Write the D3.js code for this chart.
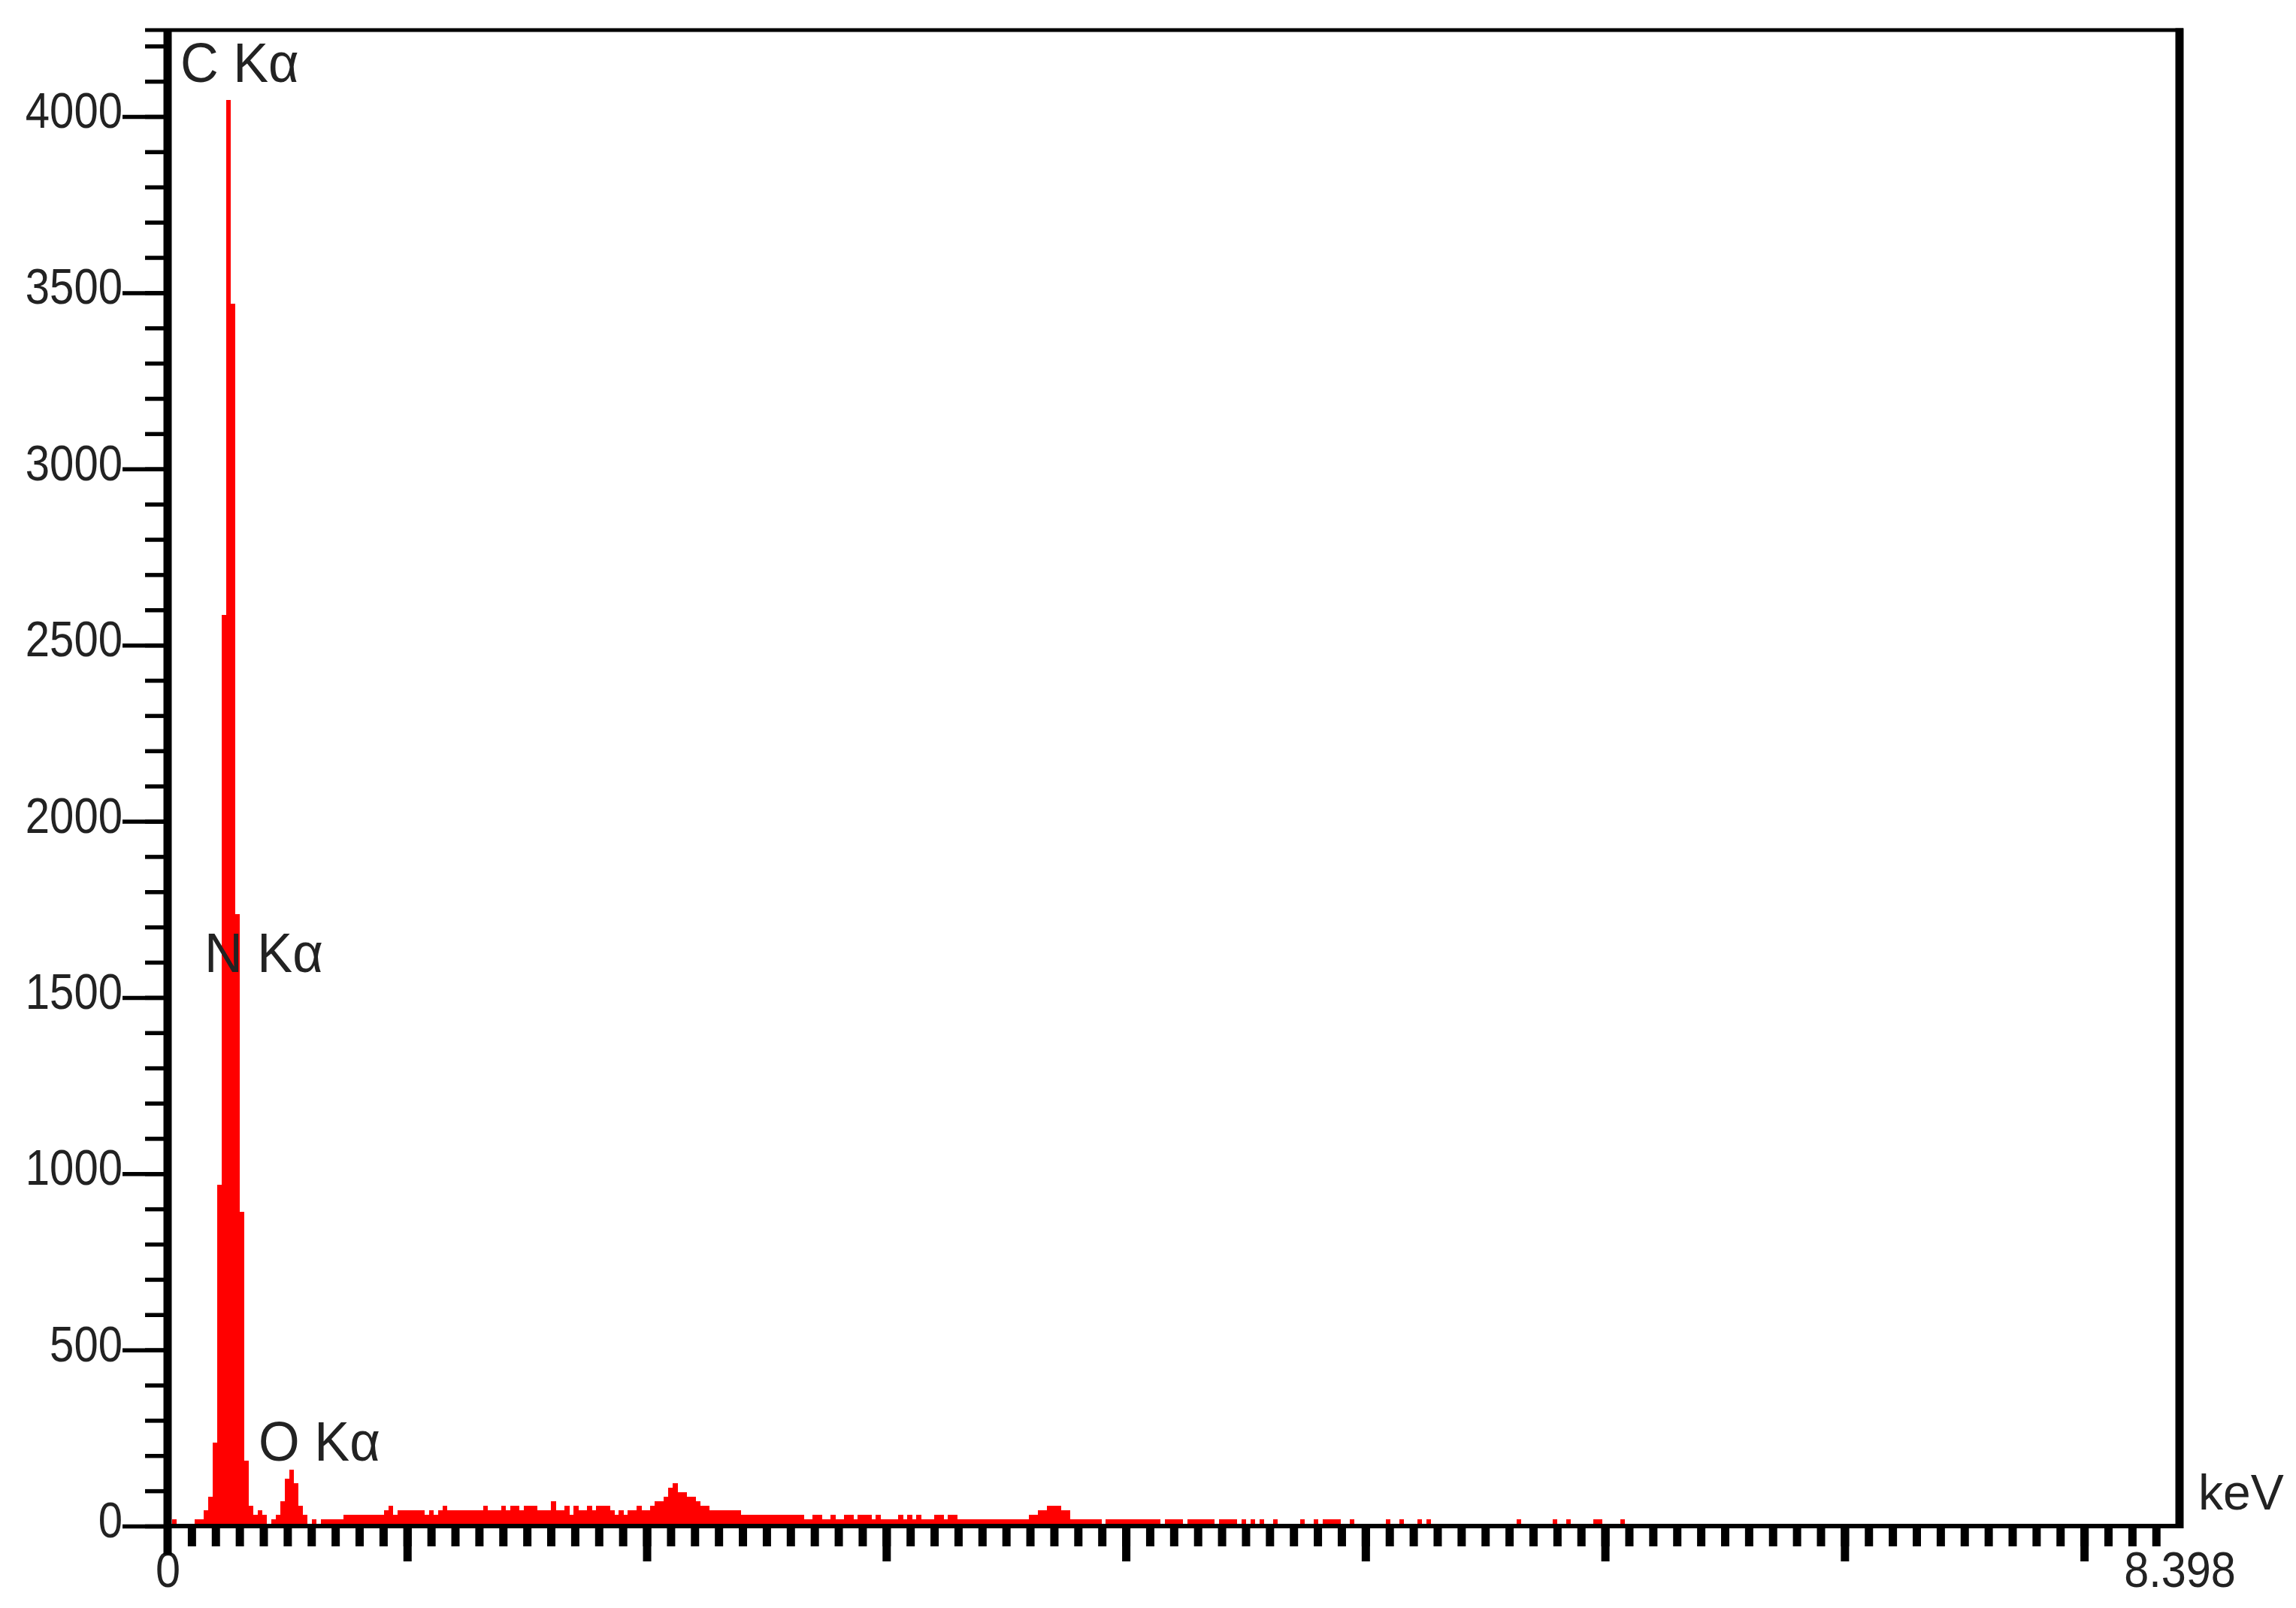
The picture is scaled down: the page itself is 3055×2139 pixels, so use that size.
<!DOCTYPE html>
<html>
<head>
<meta charset="utf-8">
<script src="https://cdn.jsdelivr.net/npm/d3@7"></script>
<style>
  body { margin: 0; background: #fff; }
  text { font-family: "Liberation Sans", Arial, sans-serif; fill: #222; }
</style>
</head>
<body>
<svg width="3055" height="2139"></svg>
<script>
// EDS spectrum - counts per channel
const CHANNEL_KEV = 0.01883;   // width of one channel
const X_MAX_KEV = 8.398;       // end of the energy axis
const counts = [
    0, 19, 0, 0, 0, 0, 19, 19, 45, 83,
    237, 968, 2585, 4047, 3469, 1737, 892, 185, 58, 32,
    45, 32, 0, 19, 32, 70, 134, 160, 122, 58,
    32, 0, 19, 0, 19, 19, 19, 19, 19, 32,
    32, 32, 32, 32, 32, 32, 32, 32, 45, 58,
    32, 45, 45, 45, 45, 45, 45, 32, 45, 32,
    45, 58, 45, 45, 45, 45, 45, 45, 45, 45,
    58, 45, 45, 45, 58, 45, 58, 58, 45, 58,
    58, 58, 45, 45, 45, 70, 45, 45, 58, 32,
    58, 45, 45, 58, 45, 58, 58, 58, 45, 32,
    45, 32, 45, 45, 58, 45, 45, 58, 70, 70,
    83, 109, 122, 96, 96, 83, 83, 70, 58, 58,
    45, 45, 45, 45, 45, 45, 45, 32, 32, 32,
    32, 32, 32, 32, 32, 32, 32, 32, 32, 32,
    32, 19, 19, 32, 32, 19, 19, 32, 19, 19,
    32, 32, 19, 32, 32, 32, 19, 32, 19, 19,
    19, 19, 32, 19, 32, 19, 32, 19, 19, 19,
    32, 32, 19, 32, 32, 19, 19, 19, 19, 19,
    19, 19, 19, 19, 19, 19, 19, 19, 19, 19,
    19, 32, 32, 45, 45, 58, 58, 58, 45, 45,
    19, 19, 19, 19, 19, 19, 19, 0, 19, 19,
    19, 19, 19, 19, 19, 19, 19, 19, 19, 19,
    0, 19, 19, 19, 19, 0, 19, 19, 19, 19,
    19, 19, 0, 19, 19, 19, 19, 0, 19, 0,
    19, 0, 19, 0, 0, 19, 0, 0, 0, 0,
    0, 19, 0, 0, 19, 0, 19, 19, 19, 19,
    0, 0, 19, 0, 0, 0, 0, 0, 0, 0,
    19, 0, 0, 19, 0, 0, 0, 19, 0, 19,
    0, 0, 0, 0, 0, 0, 0, 0, 0, 0,
    0, 0, 0, 0, 0, 0, 0, 0, 0, 19,
    0, 0, 0, 0, 0, 0, 0, 19, 0, 0,
    19, 0, 0, 0, 0, 0, 19, 19, 0, 0,
    0, 0, 19
];

// Peak labels (anchored in keV / counts)
const peakLabels = ["C Kα", "N Kα", "O Kα"];
const peakLabelKeV = [0.053, 0.154, 0.38];
const peakLabelCounts = [4098, 1572, 186];

// Ticks
const yMinorTicks = d3.range(0, 4201, 100);
const yMajorTicks = d3.range(0, 4001, 500);
const xMinorTicks = d3.range(1, 84).map(i => i / 10);
const xMajorTicks = d3.range(1, 9);
const xEndLabels = [0, X_MAX_KEV];
const xUnit = "keV";

const svg = d3.select("svg");

const x = d3.scaleLinear().domain([0, X_MAX_KEV]).range([223, 2900]);
const y = d3.scaleLinear().domain([0, 4000]).range([2030, 155]);
const yTop = y.invert(40);

// Spectrum bars
svg.append("g")
    .selectAll("rect")
    .data(counts)
    .join("rect")
    .attr("x", (d, i) => x(i * CHANNEL_KEV))
    .attr("width", (d, i) => x((i + 1) * CHANNEL_KEV) - x(i * CHANNEL_KEV) + 0.3)
    .attr("y", d => y(d))
    .attr("height", d => y(0) - y(d))
    .attr("fill", "#ff0000")
    .attr("shape-rendering", "crispEdges");

// Y axis: minor and major ticks
svg.append("g")
    .attr("transform", `translate(${x(0)},0)`)
    .call(d3.axisLeft(y).tickValues(yMinorTicks).tickSize(30).tickFormat(""))
    .call(g => g.select(".domain").remove())
    .call(g => g.selectAll("line").attr("stroke", "#000").attr("stroke-width", 5.5));

svg.append("g")
    .attr("transform", `translate(${x(0)},0)`)
    .call(d3.axisLeft(y).tickValues(yMajorTicks).tickSize(60).tickPadding(0).tickFormat(d3.format("d")))
    .call(g => g.select(".domain").remove())
    .call(g => g.selectAll("line").attr("stroke", "#000").attr("stroke-width", 5.5))
    .call(g => g.selectAll("text")
        .attr("font-size", 66)
        .attr("fill", "#222")
        .attr("dy", "0.22em")
        .attr("x", -60 / 0.88)
        .attr("transform", "scale(0.88,1)"));

// X axis: minor and major ticks
svg.append("g")
    .attr("transform", `translate(0,${y(0)})`)
    .call(d3.axisBottom(x).tickValues(xMinorTicks).tickSize(27).tickFormat(""))
    .call(g => g.select(".domain").remove())
    .call(g => g.selectAll("line").attr("stroke", "#000").attr("stroke-width", 11));

svg.append("g")
    .attr("transform", `translate(0,${y(0)})`)
    .call(d3.axisBottom(x).tickValues(xMajorTicks).tickSize(47).tickFormat(""))
    .call(g => g.select(".domain").remove())
    .call(g => g.selectAll("line").attr("stroke", "#000").attr("stroke-width", 11));

svg.append("g")
    .attr("transform", `translate(0,${y(0)})`)
    .call(d3.axisBottom(x).tickValues(xEndLabels).tickSize(0).tickPadding(34)
        .tickFormat(d => d === 0 ? "0" : d3.format(".3f")(d)))
    .call(g => g.select(".domain").remove())
    .call(g => g.selectAll("text")
        .attr("font-size", 66)
        .attr("fill", "#222")
        .attr("transform", "scale(0.9,1)"));

// Frame
const frame = svg.append("g").attr("stroke", "#000").attr("fill", "none");
frame.append("line")   // left axis
    .attr("x1", x(0)).attr("x2", x(0))
    .attr("y1", y(yTop)).attr("y2", y(0) + 38)
    .attr("stroke-width", 11);
frame.append("line")   // baseline
    .attr("x1", x(0)).attr("x2", x(X_MAX_KEV) + 5)
    .attr("y1", y(0)).attr("y2", y(0))
    .attr("stroke-width", 6);
frame.append("line")   // right border
    .attr("x1", x(X_MAX_KEV)).attr("x2", x(X_MAX_KEV))
    .attr("y1", y(yTop) - 2.5).attr("y2", y(0) + 3)
    .attr("stroke-width", 11);
frame.append("line")   // top border
    .attr("x1", x(0) - 30).attr("x2", x(X_MAX_KEV) + 5)
    .attr("y1", y(yTop)).attr("y2", y(yTop))
    .attr("stroke-width", 5);

// Unit
svg.append("text")
    .attr("x", x(X_MAX_KEV) + 25)
    .attr("y", y(0) - 22)
    .attr("font-size", 66)
    .text(xUnit);

// Peak labels
svg.append("g")
    .selectAll("text")
    .data(peakLabels)
    .join("text")
    .attr("x", (d, i) => x(peakLabelKeV[i]))
    .attr("y", (d, i) => y(peakLabelCounts[i]))
    .attr("font-size", 74)
    .attr("transform", (d, i) => `translate(${x(peakLabelKeV[i]) * 0.05},0) scale(0.95,1)`)
    .text(d => d);
</script>
</body>
</html>
